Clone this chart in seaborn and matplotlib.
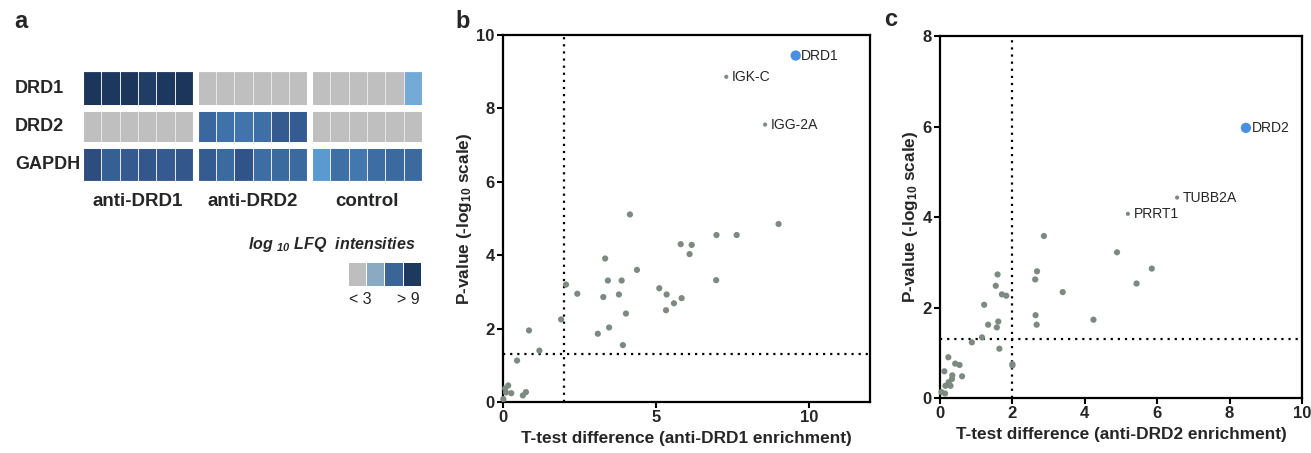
import numpy as np
import pandas as pd
import matplotlib
matplotlib.use("Agg")
import matplotlib.pyplot as plt
from matplotlib.colors import LinearSegmentedColormap, ListedColormap
import seaborn as sns

# ---------------- data ----------------
genes = ["DRD1", "DRD2", "GAPDH"]
groups = ["anti-DRD1", "anti-DRD2", "control"]
# log10 LFQ intensities per replicate (values < 3 drawn grey; 2.0 = below detection)
drd1_row = [8.9, 8.8, 8.9, 8.6, 8.8, 8.9,  2.0, 2.0, 2.0, 2.0, 2.0, 2.0,  2.0, 2.0, 2.0, 2.0, 2.0, 4.2]
drd2_row = [2.0, 2.0, 2.0, 2.0, 2.0, 2.0,  6.9, 6.5, 6.4, 6.6, 7.4, 7.3,  2.0, 2.0, 2.0, 2.0, 2.0, 2.0]
gapdh_row = [7.9, 7.2, 7.4, 7.5, 7.4, 7.5,  7.3, 6.8, 7.6, 6.7, 6.8, 6.8,  5.0, 6.6, 6.3, 6.7, 6.8, 6.8]
legend_ticks = ["< 3", "> 9"]

# panel b : anti-DRD1 enrichment
b_x = [4.15, 9.01, 6.98, 7.64, 5.81, 6.17, 6.10, 3.34, 4.38, 3.43, 3.88, 6.97, 2.06, 5.11,
       2.43, 5.35, 3.79, 3.28, 5.84, 5.59, 5.33, 4.02, 1.90, 3.47, 0.85, 3.10, 3.92, 1.19,
       0.46, 0.17, 0.07, 0.10, 0.27, 0.75, 0.65, 0.01]
b_y = [5.11, 4.85, 4.55, 4.55, 4.30, 4.28, 4.03, 3.91, 3.60, 3.31, 3.31, 3.32, 3.20, 3.10,
       2.95, 2.93, 2.93, 2.86, 2.83, 2.69, 2.50, 2.41, 2.25, 2.03, 1.95, 1.86, 1.55, 1.40,
       1.13, 0.45, 0.37, 0.26, 0.24, 0.27, 0.18, 0.08]
b_lab_names = ["IGK-C", "IGG-2A"]
b_lab_x = [7.30, 8.57]
b_lab_y = [8.86, 7.56]
b_target = ("DRD1", 9.57, 9.44)

# panel c : anti-DRD2 enrichment
c_x = [2.87, 4.89, 5.85, 5.43, 2.68, 2.63, 3.39, 1.59, 1.54, 1.71, 1.83, 1.22, 2.64, 4.24,
       1.61, 1.33, 1.57, 2.67, 1.16, 0.88, 1.64, 0.23, 2.00, 2.00, 0.42, 0.54, 0.12, 0.34,
       0.61, 0.33, 0.24, 0.15, 0.29, 0.04, 0.14]
c_y = [3.58, 3.22, 2.86, 2.53, 2.80, 2.62, 2.34, 2.73, 2.48, 2.29, 2.26, 2.06, 1.83, 1.73,
       1.69, 1.62, 1.56, 1.62, 1.34, 1.23, 1.09, 0.90, 0.75, 0.72, 0.76, 0.73, 0.59, 0.50,
       0.48, 0.42, 0.35, 0.27, 0.27, 0.13, 0.10]
c_lab_names = ["TUBB2A", "PRRT1"]
c_lab_x = [6.55, 5.19]
c_lab_y = [4.43, 4.07]
c_target = ("DRD2", 8.45, 5.97)

fc_cut = 2.0
p_cut = 1.3

# ---------------- style ----------------
sns.set_theme(style="ticks")
plt.rcParams["font.family"] = ["Liberation Sans", "DejaVu Sans"]
plt.rcParams["mathtext.fontset"] = "custom"
plt.rcParams["mathtext.rm"] = "Liberation Sans"
plt.rcParams["mathtext.it"] = "Liberation Sans:italic"
plt.rcParams["mathtext.bf"] = "Liberation Sans:bold"
try:
    plt.rcParams["mathtext.bfit"] = "Liberation Sans:bold:italic"
except KeyError:
    pass

GREY_PT = "#7d8a82"
BLUE_PT = "#4a90e2"

fig = plt.figure(figsize=(13.11, 4.53), dpi=100)
W, H = 1311.0, 453.0

def fr(x0, y0, x1, y1):
    return [x0 / W, 1 - y1 / H, (x1 - x0) / W, (y1 - y0) / H]

# ---------------- panel a : heatmap ----------------
cmap = LinearSegmentedColormap.from_list(
    "lfq", [(0.0, "#9cc3e4"), (0.333, "#5a9ad0"), (0.583, "#3f72a8"),
            (0.75, "#33578c"), (1.0, "#1a3458")])
cmap.set_under("#bfbfbf")

mat = np.array([drd1_row, drd2_row, gapdh_row])
col_edges = [(83, 193), (198, 307), (312, 422)]
for gi, (gname, (x0, x1)) in enumerate(zip(groups, col_edges)):
    ax = fig.add_axes(fr(x0, 70, x1, 183))
    sub = pd.DataFrame(mat[:, gi * 6:(gi + 1) * 6], index=genes)
    sns.heatmap(sub, ax=ax, cmap=cmap, vmin=3, vmax=9, cbar=False,
                linewidths=0.6, linecolor="#e6e6e6",
                xticklabels=False, yticklabels=(gi == 0))
    for yy in (1, 2):
        ax.axhline(yy, color="white", lw=5)
    ax.axhline(0, color="white", lw=3)
    ax.axhline(3, color="white", lw=3)
    ax.axvline(0, color="white", lw=0.8)
    ax.axvline(6, color="white", lw=0.8)
    ax.set_xlabel(gname, fontsize=13.5, fontweight="bold", labelpad=7)
    ax.set_ylabel("")
    if gi == 0:
        ax.tick_params(axis="y", length=0, pad=49)
        for lbl in ax.get_yticklabels():
            lbl.set_ha("left")
            lbl.set_rotation(0)
            lbl.set_fontsize(13)
            lbl.set_fontweight("bold")

# legend swatches
lax = fig.add_axes(fr(348, 262, 421, 286))
leg_cmap = ListedColormap(["#bebebe", "#8aaac4", "#3a6697", "#1d3a5e"])
sns.heatmap(np.array([[0, 1, 2, 3]]), ax=lax, cmap=leg_cmap, vmin=-0.5, vmax=3.5,
            cbar=False, linewidths=0.6, linecolor="white",
            xticklabels=False, yticklabels=False)
fig.text(415 / W, 1 - 244 / H, r"log $_{\mathbfit{10}}$ LFQ  intensities",
         ha="right", va="center", fontsize=11.5, fontweight="bold", style="italic")
fig.text(360 / W, 1 - 299 / H, legend_ticks[0], ha="center", va="center", fontsize=11.5)
fig.text(408 / W, 1 - 299 / H, legend_ticks[1], ha="center", va="center", fontsize=11.5)

# ---------------- scatter panels ----------------
def volcano(rect, xs, ys, lab_names, lab_x, lab_y, target, xlim, ylim, xticks, yticks, xlabel):
    ax = fig.add_axes(rect)
    sns.scatterplot(x=xs, y=ys, ax=ax, color=GREY_PT, s=20, edgecolor="none",
                    clip_on=False, zorder=3)
    sns.scatterplot(x=lab_x, y=lab_y, ax=ax, color=GREY_PT, s=9, edgecolor="none", zorder=3)
    for n, xx, yy in zip(lab_names, lab_x, lab_y):
        ax.annotate(n, (xx, yy), xytext=(4, 0), textcoords="offset points",
                    ha="left", va="center", fontsize=10)
    name, tx, ty = target
    sns.scatterplot(x=[tx], y=[ty], ax=ax, color=BLUE_PT, s=55, edgecolor="none", zorder=4)
    ax.annotate(name, (tx, ty), xytext=(4, 0), textcoords="offset points",
                ha="left", va="center", fontsize=10)
    ax.axvline(fc_cut, color="black", ls=(0, (1, 2.2)), lw=1.6, zorder=1)
    ax.axhline(p_cut, color="black", ls=(0, (1, 2.2)), lw=1.6, zorder=1)
    ax.set_xlim(*xlim)
    ax.set_ylim(*ylim)
    ax.set_xticks(xticks)
    ax.set_yticks(yticks)
    for s in ax.spines.values():
        s.set_visible(True)
        s.set_linewidth(1.6)
        s.set_color("black")
    ax.tick_params(direction="out", length=4, width=1.5, labelsize=12, pad=2, color="black")
    for lbl in ax.get_xticklabels() + ax.get_yticklabels():
        lbl.set_fontweight("bold")
    ax.set_xlabel(xlabel, fontsize=12.4, fontweight="bold", labelpad=4)
    ax.set_ylabel(r"P-value (-log$_{\mathbf{10}}$ scale)", fontsize=12.4,
                  fontweight="bold", labelpad=2)
    return ax

volcano(fr(503, 35, 870, 402), b_x, b_y, b_lab_names, b_lab_x, b_lab_y, b_target,
        (0, 12), (0, 10), [0, 5, 10], [0, 2, 4, 6, 8, 10],
        "T-test difference (anti-DRD1 enrichment)")
volcano(fr(940, 36, 1302, 398), c_x, c_y, c_lab_names, c_lab_x, c_lab_y, c_target,
        (0, 10), (0, 8), [0, 2, 4, 6, 8, 10], [0, 2, 4, 6, 8],
        "T-test difference (anti-DRD2 enrichment)")

# panel letters
for letter, px, py in [("a", 14, 22), ("b", 455, 22), ("c", 884, 20)]:
    fig.text(px / W, 1 - py / H, letter, fontsize=17, fontweight="bold",
             ha="left", va="center")

fig.savefig("out.png", dpi=100)
